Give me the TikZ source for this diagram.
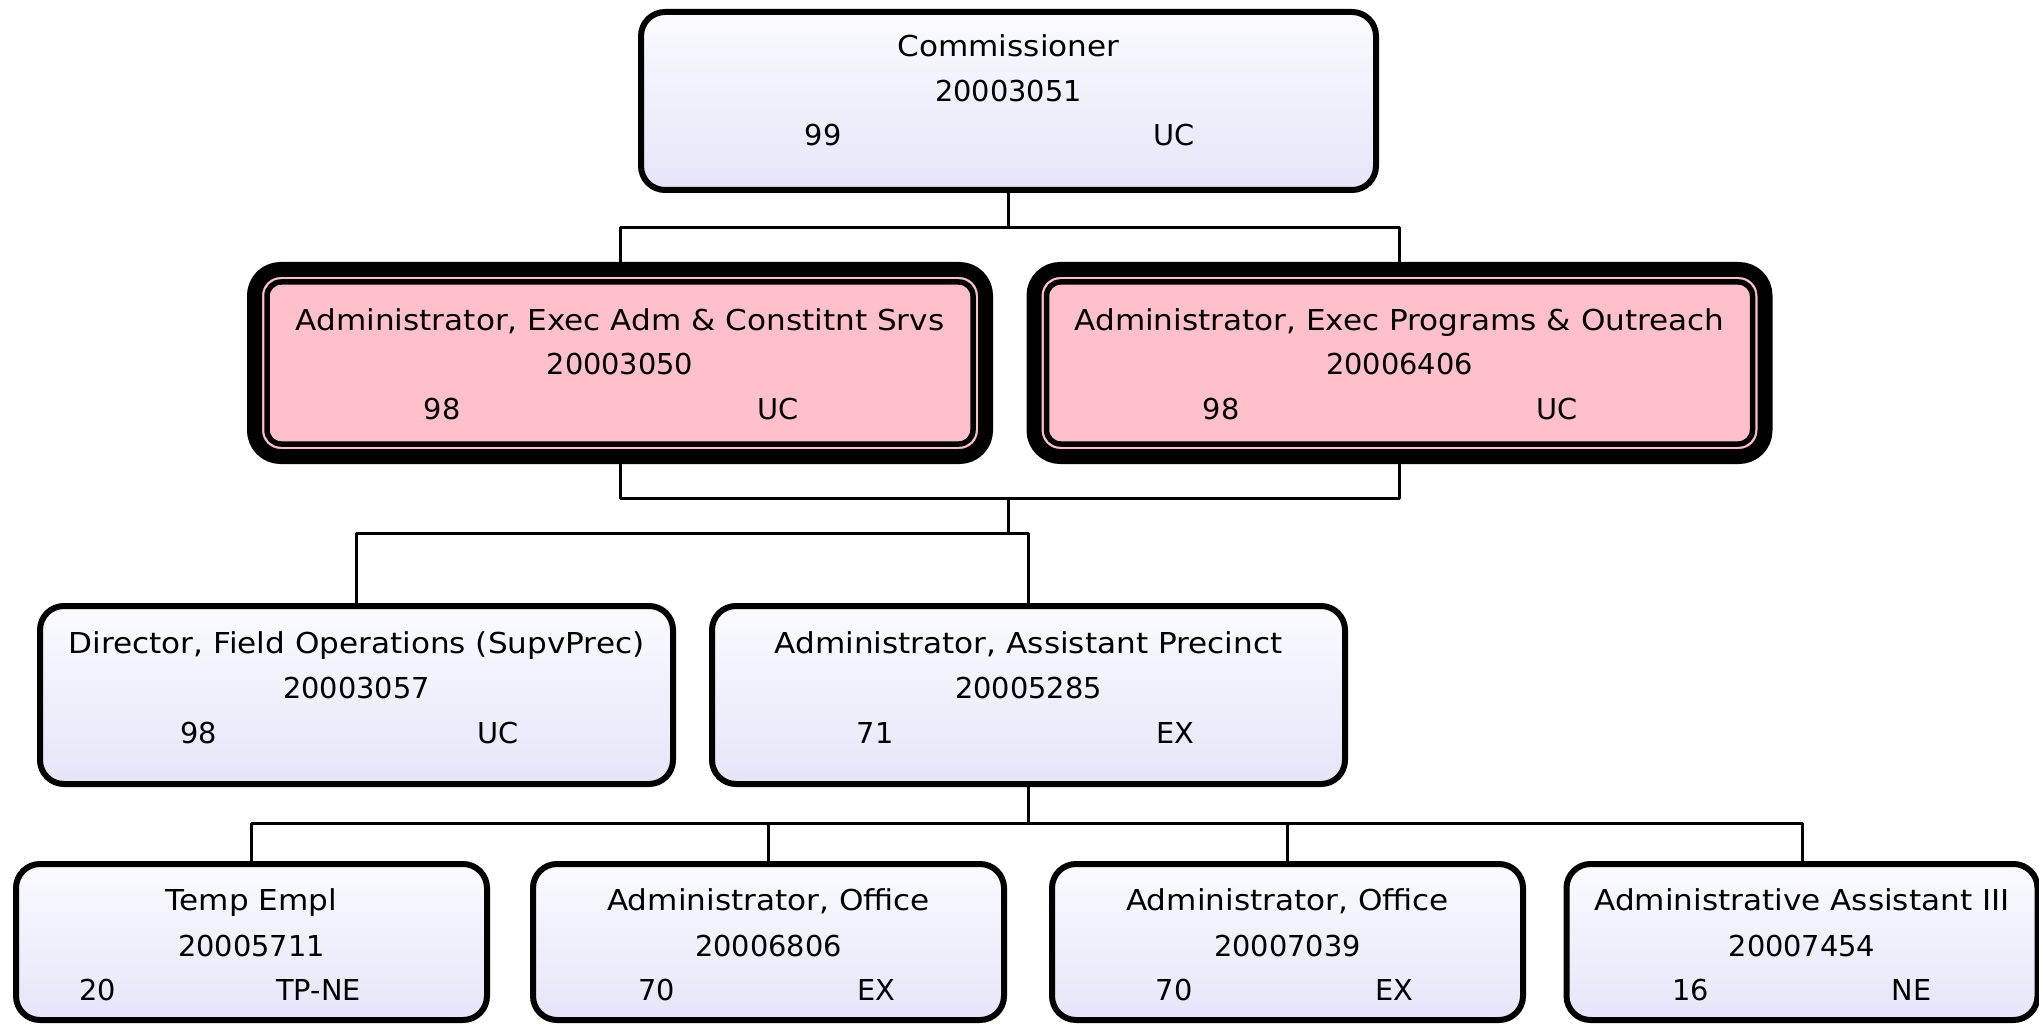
\documentclass[tikz,border=0pt]{standalone}
\usepackage{fontspec}
\setmainfont{DejaVu Sans}
\newfontfamily\titlefont[FakeStretch=1.08]{DejaVu Sans}
\usepackage{xcolor}
\definecolor{boxtop}{RGB}{250,250,255}
\definecolor{boxbot}{RGB}{229,229,248}
\definecolor{rosebox}{RGB}{255,192,203}

\begin{document}
\begin{tikzpicture}[x=0.5pt,y=-0.5pt,line join=round,
  post/.style={draw=black,line width=3pt,rounded corners=12pt,
    top color=boxtop,bottom color=boxbot,inner sep=0pt},
  head/.style={draw=black,fill=rosebox,line width=7.5pt,rounded corners=13pt,
    minimum width=365.5pt,minimum height=93.5pt,inner sep=0pt},
  headline/.style={draw=black,line width=2.75pt,rounded corners=7pt},
  lbl/.style={anchor=base,inner sep=0pt,font=\fontsize{14.4pt}{17pt}\selectfont},
  ttl/.style={lbl,font=\fontsize{14.4pt}{17pt}\selectfont\titlefont},
  link/.style={draw=black,line width=1.5pt}]
\useasboundingbox (0,0) rectangle (2039,1026);

% boxes
\node[post,minimum width=367.5pt,minimum height=89pt] (comm) at (1008.5,101) {};
\node[head] (adm) at (620,363) {};
\node[head] (prog) at (1399.5,363) {};
\draw[headline] ([shift={(20,20)}]adm.north west) rectangle ([shift={(-20,-20)}]adm.south east);
\draw[headline] ([shift={(20,20)}]prog.north west) rectangle ([shift={(-20,-20)}]prog.south east);
\node[post,minimum width=316.5pt,minimum height=89pt] (dir) at (356.5,695) {};
\node[post,minimum width=316.5pt,minimum height=89pt] (aap) at (1028.5,695) {};
\node[post,minimum width=235.5pt,minimum height=78pt] (temp) at (251.5,942) {};
\node[post,minimum width=235.5pt,minimum height=78pt] (off1) at (768.5,942) {};
\node[post,minimum width=235.5pt,minimum height=78pt] (off2) at (1287.5,942) {};
\node[post,minimum width=235.5pt,minimum height=78pt] (aa3) at (1802,942) {};

% texts
\node[ttl] (commT) at (1008.5,57) {Commissioner};
\node[lbl] (commN) at (1008.5,102) {20003051};
\node[lbl] (commG) at (823,146) {99};
\node[lbl] (commU) at (1174,146) {UC};

\node[ttl] (admT) at (620,331) {Administrator, Exec Adm \& Constitnt Srvs};
\node[lbl] (admN) at (620,375) {20003050};
\node[lbl] (admG) at (442,420) {98};
\node[lbl] (admU) at (778,420) {UC};

\node[ttl] (progT) at (1399.5,331) {Administrator, Exec Programs \& Outreach};
\node[lbl] (progN) at (1399.5,375) {20006406};
\node[lbl] (progG) at (1221,420) {98};
\node[lbl] (progU) at (1557,420) {UC};

\node[ttl] (dirT) at (356.5,653) {Director, Field Operations (SupvPrec)};
\node[lbl] (dirN) at (356.5,698) {20003057};
\node[lbl] (dirG) at (199,743) {98};
\node[lbl] (dirU) at (498,743) {UC};

\node[ttl] (aapT) at (1028.5,653) {Administrator, Assistant Precinct};
\node[lbl] (aapN) at (1028.5,698) {20005285};
\node[lbl] (aapG) at (875,743) {71};
\node[lbl] (aapU) at (1175.5,743) {EX};

\node[ttl] (tempT) at (251.5,910) {Temp Empl};
\node[lbl] (tempN) at (251.5,956) {20005711};
\node[lbl] (tempG) at (97.5,1000) {20};
\node[lbl] (tempU) at (318.6,1000) {TP-NE};

\node[ttl] (off1T) at (768.5,910) {Administrator, Office};
\node[lbl] (off1N) at (768.5,956) {20006806};
\node[lbl] (off1G) at (656.7,1000) {70};
\node[lbl] (off1U) at (876.5,1000) {EX};

\node[ttl] (off2T) at (1287.5,910) {Administrator, Office};
\node[lbl] (off2N) at (1287.5,956) {20007039};
\node[lbl] (off2G) at (1174.2,1000) {70};
\node[lbl] (off2U) at (1394,1000) {EX};

\node[ttl] (aa3T) at (1802,910) {Administrative Assistant III};
\node[lbl] (aa3N) at (1802,956) {20007454};
\node[lbl] (aa3G) at (1690.5,1000) {16};
\node[lbl] (aa3U) at (1911.6,1000) {NE};

% connectors
\coordinate (j1) at (1008.5,228);
\coordinate (j2) at (1008.5,498);
\coordinate (j3) at (1008.5,533);
\coordinate (j4) at (1028.5,823);
\draw[link] (comm.south) -- (j1);
\draw[link] (adm.north) |- (j1) -| (prog.north);
\draw[link] (adm.south) |- (j2) -| (prog.south);
\draw[link] (j2) -- (j3);
\draw[link] (dir.north) |- (j3) -| (aap.north);
\draw[link] (aap.south) -- (j4);
\draw[link] (temp.north) |- (j4) -| (aa3.north);
\draw[link] (off1.north) -- (off1.north |- j4);
\draw[link] (off2.north) -- (off2.north |- j4);
\end{tikzpicture}
\end{document}
